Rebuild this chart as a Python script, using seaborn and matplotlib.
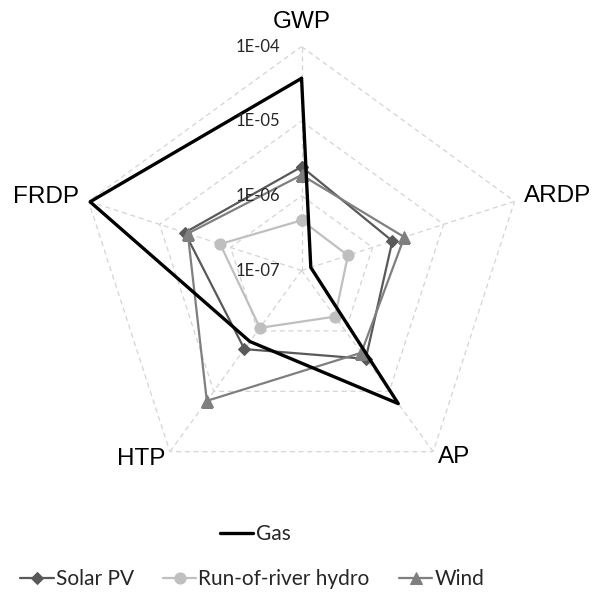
import numpy as np
import pandas as pd
import seaborn as sns
import matplotlib
matplotlib.use("Agg")
import matplotlib.pyplot as plt

sns.set_style("white")
plt.rcParams['font.family'] = ['Lato', 'DejaVu Sans']

# impact categories, clockwise from the top
categories = ["GWP", "ARDP", "AP", "HTP", "FRDP"]

# values (log radial scale)
gas = [3.75e-5, 1.35e-7, 1.6e-5, 1.5e-6, 9.5e-5]
solar_pv = [2.45e-6, 1.9e-6, 2.9e-6, 2.0e-6, 4.4e-6]
hydro = [4.7e-7, 4.5e-7, 5.8e-7, 8.9e-7, 1.4e-6]
wind = [1.9e-6, 2.8e-6, 2.3e-6, 1.44e-5, 4.0e-6]

grid_values = [1e-7, 1e-6, 1e-5, 1e-4]
grid_labels = ["1E-07", "1E-06", "1E-05", "1E-04"]

series = {"Gas": gas, "Solar PV": solar_pv, "Run-of-river hydro": hydro, "Wind": wind}
styles = {
    "Gas": dict(color="#000000", lw=2.4, marker=None),
    "Solar PV": dict(color="#595959", lw=1.6, marker="D", ms=6),
    "Run-of-river hydro": dict(color="#BFBFBF", lw=1.6, marker="o", ms=8),
    "Wind": dict(color="#7F7F7F", lw=1.6, marker="^", ms=8),
}

theta = np.linspace(0, 2 * np.pi, len(categories), endpoint=False)
theta_closed = np.append(theta, theta[0])

rows = []
for name, vals in series.items():
    for t, v in zip(theta_closed, vals + vals[:1]):
        rows.append({"series": name, "theta": t, "value": v})
df = pd.DataFrame(rows)

fig = plt.figure(figsize=(5.95, 5.97), dpi=100)
ax = fig.add_axes([0.1303, 0.1717, 0.753, 0.7504], projection="polar")
ax.set_theta_offset(np.pi / 2)
ax.set_theta_direction(-1)
ax.set_rscale("log")

# pentagon grid and spokes
for g in grid_values[1:]:
    ax.plot(theta_closed, [g] * len(theta_closed), ls=(0, (4, 3)), color="#D4D4D4", lw=0.9, zorder=1)
for t in theta:
    ax.plot([t, t], [grid_values[0], grid_values[-1]], ls=(0, (4, 3)), color="#D4D4D4", lw=0.9, zorder=1)

for name in ["Solar PV", "Run-of-river hydro", "Wind", "Gas"]:
    st = styles[name]
    kw = dict(color=st["color"], lw=st["lw"])
    if st["marker"]:
        kw.update(marker=st["marker"], markersize=st["ms"], markeredgecolor=st["color"])
    sns.lineplot(data=df[df.series == name], x="theta", y="value", sort=False,
                 estimator=None, ax=ax, label=name, zorder=3, **kw)

ax.set_rlim(grid_values[0], grid_values[-1])
ax.grid(False)
ax.set_xticks([])
ax.set_yticks([])
ax.set_xlabel("")
ax.set_ylabel("")
ax.spines["polar"].set_visible(False)
ax.get_legend().remove()

# radial labels along the GWP axis
for g, lab in zip(grid_values, grid_labels):
    ax.annotate(lab, xy=(0, g), xytext=(-15.5, 0), textcoords="offset points",
                ha="right", va="center", fontsize=12, color="#262626")

# category labels
offsets = {
    "GWP": ((0, 17.5), "center"),
    "ARDP": ((7, 4), "left"),
    "AP": ((3.6, -3.6), "left"),
    "HTP": ((-3, -5), "right"),
    "FRDP": ((-7, 3), "right"),
}
for t, cat in zip(theta, categories):
    off, ha = offsets[cat]
    ax.annotate(cat, xy=(t, grid_values[-1]), xytext=off, textcoords="offset points",
                ha=ha, va="center", fontsize=17.5, color="#000000",
                family=["Liberation Sans", "DejaVu Sans"])

handles, labels = ax.get_legend_handles_labels()
hmap = dict(zip(labels, handles))
fig.legend([hmap["Gas"]], ["Gas"], loc="center", bbox_to_anchor=(0.429, 0.105),
           frameon=False, fontsize=15, handlelength=1.6, handletextpad=0.1)
fig.legend([hmap[n] for n in ["Solar PV", "Run-of-river hydro", "Wind"]],
           ["Solar PV", "Run-of-river hydro", "Wind"], loc="center",
           bbox_to_anchor=(0.424, 0.03), ncol=3, frameon=False, fontsize=15,
           handlelength=1.6, handletextpad=0.1, columnspacing=1.4)

fig.savefig("out.png", dpi=100)
